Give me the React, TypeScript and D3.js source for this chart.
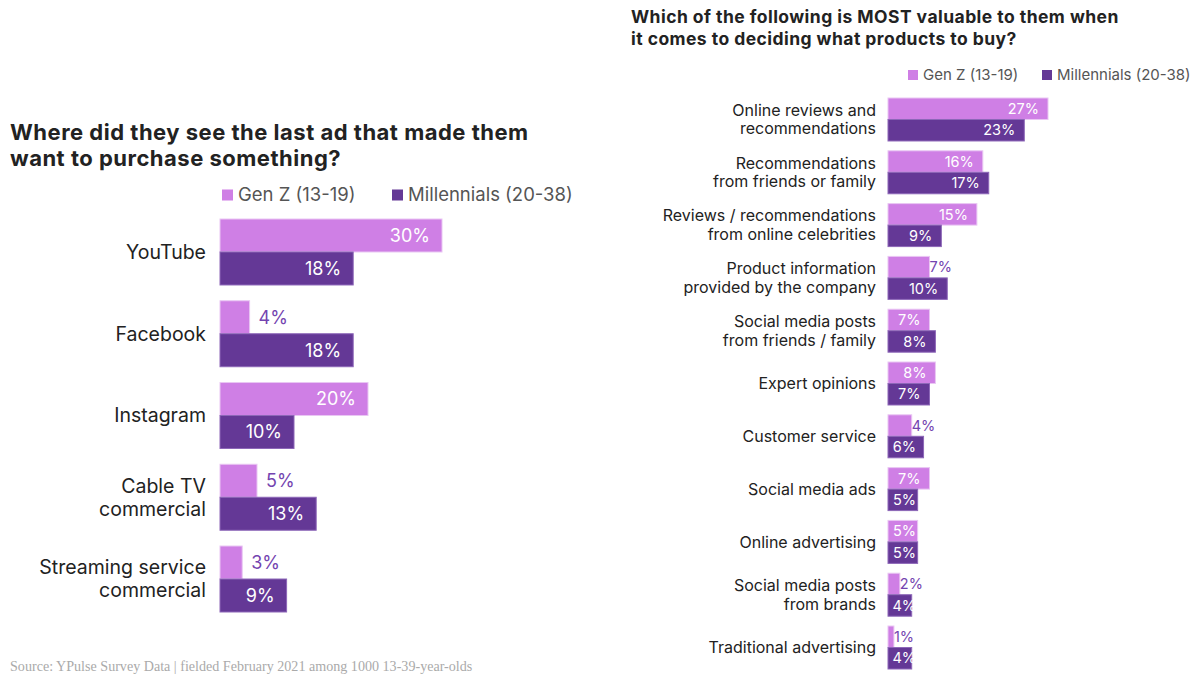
import React from "react";
import * as d3 from "d3";

const leftCategories = [["YouTube"], ["Facebook"], ["Instagram"], ["Cable TV", "commercial"], ["Streaming service", "commercial"]];
const leftGenZ = [30, 4, 20, 5, 3];
const leftMill = [18, 18, 10, 13, 9];

const rightCategories = [
  ["Online reviews and", "recommendations"],
  ["Recommendations", "from friends or family"],
  ["Reviews / recommendations", "from online celebrities"],
  ["Product information", "provided by the company"],
  ["Social media posts", "from friends / family"],
  ["Expert opinions"],
  ["Customer service"],
  ["Social media ads"],
  ["Online advertising"],
  ["Social media posts", "from brands"],
  ["Traditional advertising"],
];
const rightGenZ = [27, 16, 15, 7, 7, 8, 4, 7, 5, 2, 1];
const rightMill = [23, 17, 9, 10, 8, 7, 6, 5, 5, 4, 4];
// Gen Z labels drawn outside the bar (as in the source)
const rightGenZOutside = [
  "Product information|provided by the company",
  "Customer service",
  "Social media posts|from brands",
  "Traditional advertising",
];

const seriesNames = ["Gen Z (13-19)", "Millennials (20-38)"];
const GENZ = "#cf7fe5";
const MILL = "#643896";
const OUT_LABEL = "#7444b0";
const FONT = "Inter, 'Noto Sans', sans-serif";

function Panel({ cats, genz, mill, x, y, catFont, catLine, catPad, valFont, inPad, outPad, minStart, outsideGenZ }) {
  const bw = y.bandwidth() / 2;
  return (
    <g>
      {cats.map((lines, i) => {
        const key = lines.join("|");
        const top = y(key);
        const cy = top + y.bandwidth() / 2;
        const x0 = x(0);
        const gx = x(genz[i]);
        const mx = x(mill[i]);
        const gOut = outsideGenZ(genz[i], key);
        const off = (lines.length - 1) / 2;
        return (
          <g key={key}>
            <text textAnchor="end" fontFamily={FONT} fontSize={catFont} fill="#222">
              {lines.map((l, j) => (
                <tspan key={j} x={x0 - catPad} y={cy + (j - off) * catLine} dy="0.35em">{l}</tspan>
              ))}
            </text>
            <rect x={x0} y={top} width={gx - x0} height={bw} fill={GENZ} stroke="#e9c6f3" strokeWidth={1} />
            <rect x={x0} y={top + bw} width={mx - x0} height={bw} fill={MILL} stroke="#8d67b8" strokeWidth={1} />
            {gOut ? (
              <text x={gx + outPad} y={top + bw / 2} dy="0.36em" fontFamily={FONT} fontSize={valFont} fill={OUT_LABEL}>{genz[i]}%</text>
            ) : (
              <text x={Math.max(gx - inPad, x0 + minStart)} y={top + bw / 2} dy="0.36em" textAnchor="end" fontFamily={FONT} fontSize={valFont} fill="#fff">{genz[i]}%</text>
            )}
            <text x={Math.max(mx - inPad, x0 + minStart)} y={top + bw * 1.5} dy="0.36em" textAnchor="end" fontFamily={FONT} fontSize={valFont} fill="#fff">{mill[i]}%</text>
          </g>
        );
      })}
    </g>
  );
}

function Legend({ x, y, size, font, gap }) {
  return (
    <g fontFamily={FONT} fontSize={font} fill="#555">
      <rect x={x} y={y - size / 2} width={size} height={size} fill={GENZ} />
      <text x={x + size + 5} y={y} dy="0.35em">{seriesNames[0]}</text>
      <rect x={x + gap} y={y - size / 2} width={size} height={size} fill={MILL} />
      <text x={x + gap + size + 5} y={y} dy="0.35em">{seriesNames[1]}</text>
    </g>
  );
}

export default function App() {
  const xL = d3.scaleLinear().domain([0, 30]).range([220, 442]);
  const yL = d3.scaleBand().domain(leftCategories.map((c) => c.join("|"))).range([219, 612]).paddingInner(0.193).paddingOuter(0);
  const xR = d3.scaleLinear().domain([0, 27]).range([888, 1048]);
  const yR = d3.scaleBand().domain(rightCategories.map((c) => c.join("|"))).range([98, 669]).paddingInner(0.186).paddingOuter(0);

  return (
    <svg width={1197} height={675} style={{ position: "absolute", left: 0, top: 0, background: "#fff" }}>
      <g fontFamily={FONT} fontWeight={700} fill="#222">
        <text x={10} y={140} fontSize={22} letterSpacing={0.5}>Where did they see the last ad that made them</text>
        <text x={10} y={166} fontSize={22} letterSpacing={0.5}>want to purchase something?</text>
        <text x={631} y={23} fontSize={17.5} letterSpacing={0.45}>Which of the following is MOST valuable to them when</text>
        <text x={631} y={45} fontSize={17.5} letterSpacing={0.45}>it comes to deciding what products to buy?</text>
      </g>
      <Legend x={222} y={195} size={11} font={18.5} gap={170} />
      <Legend x={908} y={75} size={10} font={15} gap={134} />
      <Panel cats={leftCategories} genz={leftGenZ} mill={leftMill} x={xL} y={yL}
        catFont={19.5} catLine={23} catPad={14} valFont={18} inPad={12} outPad={9} minStart={30}
        outsideGenZ={(v) => v < 10} />
      <Panel cats={rightCategories} genz={rightGenZ} mill={rightMill} x={xR} y={yR}
        catFont={16} catLine={18.5} catPad={12} valFont={14.5} inPad={9} outPad={0} minStart={28}
        outsideGenZ={(v, key) => rightGenZOutside.includes(key)} />
      <text x={10} y={671} fontFamily="'Liberation Serif', serif" fontSize={14.1} fill="#aaa">Source: YPulse Survey Data | fielded February 2021 among 1000 13-39-year-olds</text>
    </svg>
  );
}
